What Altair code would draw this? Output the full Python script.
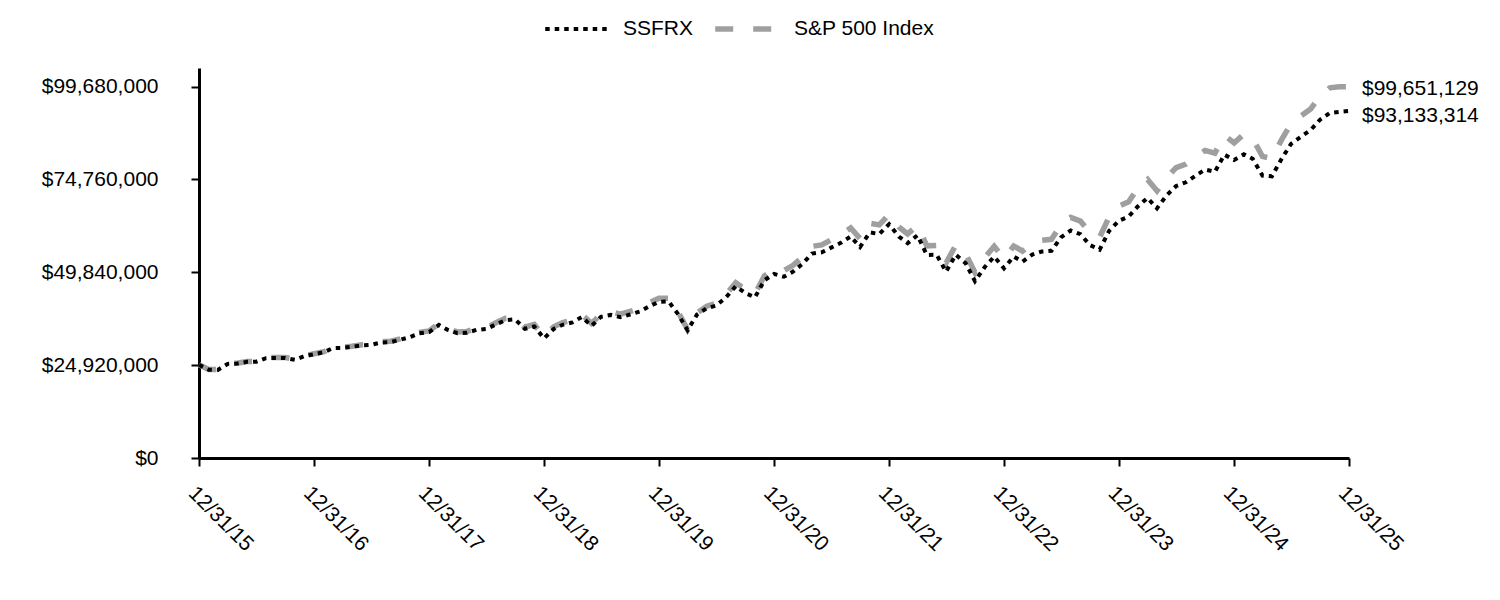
import altair as alt
import pandas as pd

# Month-end dates 12/31/15 .. 12/31/25
dates = pd.date_range("2015-12-31", "2025-12-31", freq="ME").strftime("%Y-%m-%dT00:00:00").tolist()

series_names = ["SSFRX", "S&P 500 Index"]

# values in millions of dollars
ssfrx_m = [
    25.00,
    23.70, 23.65, 25.25, 25.35, 25.80, 25.85, 26.80, 26.85, 26.85, 26.35, 27.35, 27.85,
    28.40, 29.50, 29.55, 29.85, 30.25, 30.40, 31.00, 31.10, 31.75, 32.45, 33.45, 33.80,
    35.70, 34.40, 33.50, 33.60, 34.40, 34.60, 35.85, 37.00, 37.20, 34.65, 35.30, 32.10,
    34.65, 35.75, 36.40, 37.85, 35.45, 37.90, 38.40, 37.80, 38.50, 39.30, 40.70, 41.90,
    42.00, 38.70, 34.30, 38.50, 40.20, 40.90, 43.10, 46.10, 44.30, 43.10, 47.70, 49.40,
    48.65, 49.95, 52.10, 54.85, 55.20, 56.45, 57.75, 59.45, 56.65, 60.55, 60.10, 62.75,
    59.45, 57.65, 59.75, 54.50, 54.55, 50.00, 54.55, 52.30, 47.45, 51.25, 54.05, 50.90,
    54.05, 52.70, 54.60, 55.40, 55.60, 59.20, 61.05, 60.05, 57.15, 55.90, 60.95, 63.65,
    64.80, 67.50, 69.80, 67.00, 70.50, 73.00, 74.00, 75.80, 77.40, 76.80, 81.40, 80.00,
    81.50, 80.30, 75.80, 75.60, 80.30, 84.30, 86.20, 88.00, 90.80, 92.60, 92.90, 93.133314,
]

sp500_m = [
    25.00,
    23.76, 23.73, 25.34, 25.44, 25.89, 25.96, 26.92, 26.96, 26.96, 26.47, 27.45, 27.99,
    28.52, 29.65, 29.69, 29.99, 30.41, 30.60, 31.23, 31.33, 31.97, 32.72, 33.72, 34.10,
    36.05, 34.72, 33.84, 33.97, 34.79, 35.00, 36.31, 37.49, 37.71, 35.13, 35.85, 32.61,
    35.22, 36.35, 37.06, 38.56, 36.11, 38.66, 39.22, 38.60, 39.32, 40.17, 41.63, 42.89,
    42.87, 39.34, 34.48, 38.90, 40.75, 41.56, 43.91, 47.07, 45.28, 44.08, 48.90, 50.78,
    50.27, 51.66, 53.92, 56.80, 57.20, 58.53, 59.93, 61.75, 58.88, 63.01, 62.57, 65.37,
    61.99, 60.14, 62.37, 56.93, 57.03, 52.33, 57.15, 54.82, 49.77, 53.80, 56.81, 53.54,
    56.90, 55.51, 57.55, 58.45, 58.70, 62.58, 64.59, 63.56, 60.53, 59.26, 64.67, 67.60,
    68.74, 72.41, 74.74, 71.69, 75.25, 77.95, 78.90, 80.82, 82.55, 81.80, 86.60, 84.54,
    86.89, 85.76, 80.93, 80.38, 85.44, 89.79, 91.80, 93.66, 97.08, 99.35, 99.60, 99.651129,
]

y_ticks = [0, 24920000, 49840000, 74760000, 99680000]
x_tick_years = list(range(2015, 2026))

ss_vals = [round(v * 1e6) for v in ssfrx_m]
sp_vals = [round(v * 1e6) for v in sp500_m]

df = pd.DataFrame({
    "date": dates * 2,
    "series": [series_names[0]] * len(dates) + [series_names[1]] * len(dates),
    "value": ss_vals + sp_vals,
})

ss_end = pd.DataFrame({"date": [dates[-1]], "value": [ss_vals[-1]]})
sp_end = pd.DataFrame({"date": [dates[-1]], "value": [sp_vals[-1]]})

FONT = "Liberation Sans"

x_enc = alt.X(
    "date:T",
    title=None,
    scale=alt.Scale(
        domain=[alt.DateTime(year=2015, month=12, date=31), alt.DateTime(year=2025, month=12, date=31)],
        nice=False,
        padding=0,
    ),
    axis=alt.Axis(
        values=[alt.DateTime(year=yr, month=12, date=31) for yr in x_tick_years],
        format="%m/%d/%y",
        labelAngle=45,
        labelAlign="left",
        labelBaseline="top",
        labelPadding=16,
        labelFontSize=21,
        labelFont=FONT,
        labelColor="black",
        domainColor="black",
        domainWidth=3,
        tickColor="black",
        tickWidth=2,
        tickSize=8,
        grid=False,
        labelOverlap=False,
    ),
)

y_enc = alt.Y(
    "value:Q",
    title=None,
    scale=alt.Scale(domain=[0, 104664000], nice=False, zero=True),
    axis=alt.Axis(
        values=y_ticks,
        format="$,.0f",
        labelFontSize=21,
        labelFont=FONT,
        labelColor="black",
        labelPadding=33,
        domainColor="black",
        domainWidth=3,
        tickColor="black",
        tickWidth=2,
        tickSize=8,
        grid=False,
    ),
)

color_enc = alt.Color(
    "series:N",
    title=None,
    scale=alt.Scale(domain=series_names, range=["#000000", "#a19e9f"]),
    legend=alt.Legend(
        orient="none",
        legendX=344,
        legendY=-75,
        direction="horizontal",
        symbolType="stroke",
        symbolSize=4300,
        labelFontSize=21,
        labelFont=FONT,
        labelColor="black",
        labelOffset=10,
        columnPadding=10,
        padding=0,
    ),
)
dash_enc = alt.StrokeDash(
    "series:N",
    title=None,
    scale=alt.Scale(domain=series_names, range=[[4.5, 5], [18, 20]]),
)
width_enc = alt.StrokeWidth(
    "series:N",
    title=None,
    scale=alt.Scale(domain=series_names, range=[4, 5.5]),
)

base = alt.Chart(df)

sp_line = base.transform_filter(alt.datum.series == series_names[1]).mark_line().encode(
    x=x_enc, y=y_enc, color=color_enc, strokeDash=dash_enc, strokeWidth=width_enc
)
ss_line = base.transform_filter(alt.datum.series == series_names[0]).mark_line().encode(
    x=x_enc, y=y_enc, color=color_enc, strokeDash=dash_enc, strokeWidth=width_enc
)

sp_label = alt.Chart(sp_end).mark_text(
    align="left", baseline="middle", dx=13, dy=2, fontSize=21, font=FONT, color="black"
).encode(x="date:T", y="value:Q", text=alt.Text("value:Q", format="$,.0f"))
ss_label = alt.Chart(ss_end).mark_text(
    align="left", baseline="middle", dx=13, dy=5, fontSize=21, font=FONT, color="black"
).encode(x="date:T", y="value:Q", text=alt.Text("value:Q", format="$,.0f"))

chart = alt.layer(sp_line, ss_line, sp_label, ss_label).properties(
    width=1150,
    height=390,
    autosize=alt.AutoSizeParams(type="none"),
    padding={"left": 191, "top": 60, "right": 138, "bottom": 130},
    background="white",
).configure(font=FONT).configure_view(stroke=None)

chart.save("out.html", embed_options={"renderer": "svg", "actions": False})
